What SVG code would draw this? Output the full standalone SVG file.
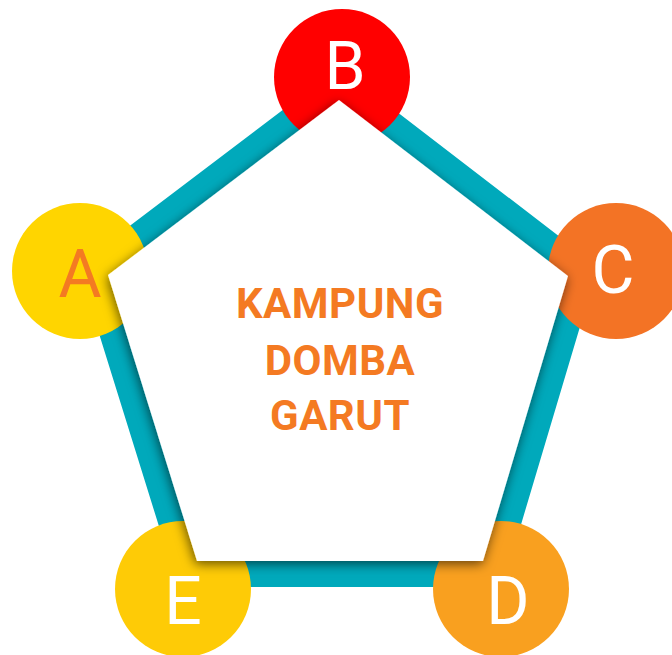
<svg xmlns="http://www.w3.org/2000/svg" width="672" height="655" viewBox="0 0 672 655">
  <style>
    .band { fill: none; stroke: #00A9BB; stroke-width: 52; stroke-linejoin: miter; }
    .letter { font-family: Roboto, "Liberation Sans", sans-serif; font-size: 66px; text-anchor: middle; fill: #FFFFFF; }
    .title { font-family: Roboto, "Liberation Sans", sans-serif; font-size: 42px; font-weight: bold; text-anchor: middle; fill: #F47A22; letter-spacing: 0.5px; }
  </style>
  <defs>
    <filter id="shadow" x="-20%" y="-20%" width="140%" height="140%">
      <feDropShadow dx="-1" dy="3" stdDeviation="6" flood-color="#000000" flood-opacity="0.6"/>
    </filter>
  </defs>
  <rect width="672" height="655" fill="#FFFFFF"/>
  <g id="connectors">
    <polygon class="band" points="339,100 568,276 483,561 197,561 108,275"/>
  </g>
  <g id="node-B">
    <circle cx="342" cy="77" r="68" fill="#FF0000"/>
  </g>
  <g id="node-A">
    <circle cx="80" cy="271" r="68" fill="#FFD500"/>
  </g>
  <g id="node-C">
    <circle cx="616" cy="271" r="68" fill="#F37325"/>
  </g>
  <g id="node-D">
    <circle cx="501" cy="589" r="68" fill="#F9A01F"/>
  </g>
  <g id="node-E">
    <circle cx="183" cy="589" r="68" fill="#FECB06"/>
  </g>
  <g id="center">
    <polygon points="339,100 568,276 483,561 197,561 108,275" fill="#FFFFFF" filter="url(#shadow)"/>
    <text class="title" x="340" y="318">KAMPUNG</text>
    <text class="title" x="340" y="375">DOMBA</text>
    <text class="title" x="340" y="430">GARUT</text>
  </g>
  <g id="labels">
    <text class="letter" x="345" y="89">B</text>
    <text class="letter" x="80" y="297" fill="#F47A22" style="fill:#F47A22">A</text>
    <text class="letter" x="613" y="293">C</text>
    <text class="letter" x="508" y="624">D</text>
    <text class="letter" x="183" y="624">E</text>
  </g>
</svg>
